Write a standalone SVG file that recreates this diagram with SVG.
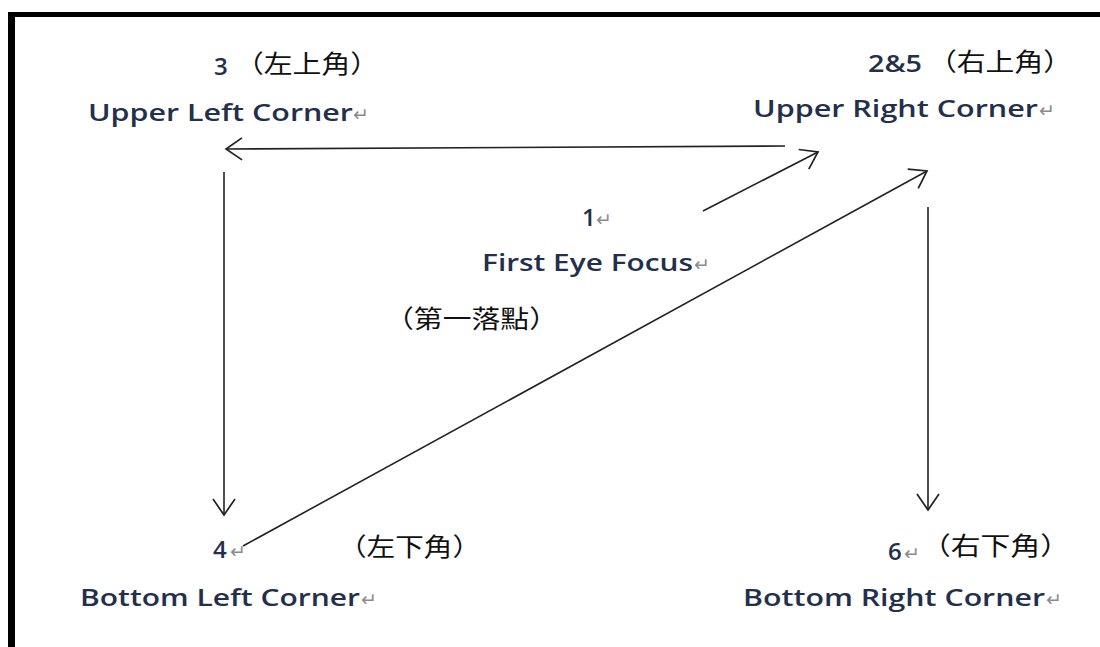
<svg xmlns="http://www.w3.org/2000/svg" width="1100" height="647" viewBox="0 0 1100 647">
<defs>
<style>
.lat{font-family:"Open Sans","Liberation Sans",sans-serif;font-size:24px;font-weight:600;fill:#22304d}
.cjk{font-family:"Noto Sans CJK TC","Noto Sans CJK SC",serif;font-size:25px;fill:#111}
.pm{font-family:"DejaVu Sans",sans-serif;font-size:19px;fill:#8a8a8a}
.conn{stroke:#222;stroke-width:1.6;fill:none;marker-end:url(#arr)}
</style>
<marker id="arr" markerUnits="userSpaceOnUse" markerWidth="22" markerHeight="28" viewBox="-19 -14 22 28" refX="0" refY="0" orient="auto">
<path d="M -16 -11 L 0 0 L -16 11" fill="none" stroke="#222" stroke-width="1.7"/>
</marker>
</defs>
<rect width="1100" height="647" fill="#fff"/>
<g id="frame">
<rect x="8" y="12" width="7" height="635" fill="#000"/>
<rect x="8" y="12" width="1092" height="5" fill="#000"/>
</g>
<g id="connectors">
<line class="conn" x1="785" y1="146" x2="226" y2="149"/>
<line class="conn" x1="703" y1="211" x2="818" y2="152"/>
<line class="conn" x1="243" y1="546" x2="927" y2="171"/>
<line class="conn" x1="224" y1="172" x2="224" y2="515"/>
<line class="conn" x1="928" y1="207" x2="928" y2="510"/>
</g>
<g id="node-upper-left">
<text class="lat" x="214" y="75">3</text>
<text class="cjk" x="235" y="73" textLength="144" lengthAdjust="spacingAndGlyphs">（左上角）</text>
<text class="lat" x="88" y="121" textLength="265" lengthAdjust="spacingAndGlyphs">Upper Left Corner</text>
<text class="pm" x="353" y="121">↵</text>
</g>
<g id="node-upper-right">
<text class="lat" x="868" y="72" textLength="54" lengthAdjust="spacingAndGlyphs">2&amp;5</text>
<text class="cjk" x="928" y="71" textLength="144" lengthAdjust="spacingAndGlyphs">（右上角）</text>
<text class="lat" x="753" y="117" textLength="285" lengthAdjust="spacingAndGlyphs">Upper Right Corner</text>
<text class="pm" x="1039" y="117">↵</text>
</g>
<g id="node-first-focus">
<text class="lat" x="582" y="226">1</text>
<text class="pm" x="596" y="226">↵</text>
<text class="lat" x="482" y="271" textLength="211" lengthAdjust="spacingAndGlyphs">First Eye Focus</text>
<text class="pm" x="694" y="271">↵</text>
<text class="cjk" x="385" y="328" textLength="173" lengthAdjust="spacingAndGlyphs">（第一落點）</text>
</g>
<g id="node-bottom-left">
<text class="lat" x="213" y="558">4</text>
<text class="pm" x="230" y="558">↵</text>
<text class="cjk" x="338" y="556" textLength="143" lengthAdjust="spacingAndGlyphs">（左下角）</text>
<text class="lat" x="80" y="606" textLength="280" lengthAdjust="spacingAndGlyphs">Bottom Left Corner</text>
<text class="pm" x="361" y="606">↵</text>
</g>
<g id="node-bottom-right">
<text class="lat" x="888" y="560">6</text>
<text class="pm" x="904" y="560">↵</text>
<text class="cjk" x="921" y="555" textLength="149" lengthAdjust="spacingAndGlyphs">（右下角）</text>
<text class="lat" x="743" y="606" textLength="302" lengthAdjust="spacingAndGlyphs">Bottom Right Corner</text>
<text class="pm" x="1046" y="606">↵</text>
</g>
</svg>
